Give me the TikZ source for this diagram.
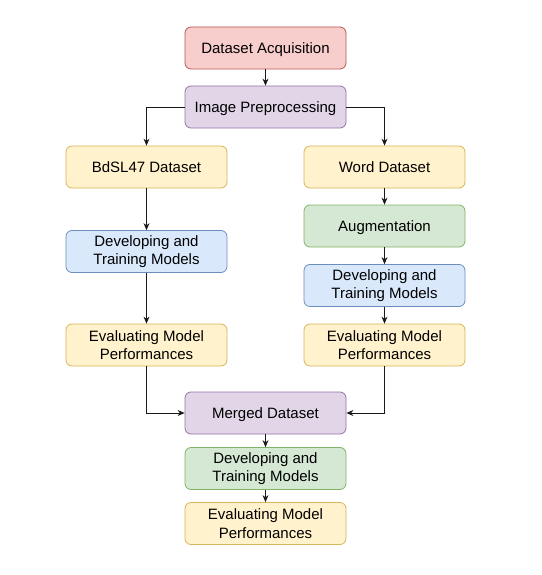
\documentclass[tikz,border=0pt]{standalone}
\usepackage{fontspec}
\setmainfont{Liberation Sans}
\usetikzlibrary{arrows.meta}
\definecolor{redf}{HTML}{F8CECC}\definecolor{redd}{HTML}{B85450}
\definecolor{purf}{HTML}{E1D5E7}\definecolor{purd}{HTML}{9673A6}
\definecolor{yelf}{HTML}{FFF2CC}\definecolor{yeld}{HTML}{D6B656}
\definecolor{grnf}{HTML}{D5E8D4}\definecolor{grnd}{HTML}{82B366}
\definecolor{bluf}{HTML}{DAE8FC}\definecolor{blud}{HTML}{6C8EBF}
\begin{document}
\begin{tikzpicture}[x=1pt,y=-1pt,
  box/.style={draw, line width=0.8pt, rounded corners=6pt, minimum width=161pt, minimum height=42pt,
    align=center, inner sep=0pt, font=\fontsize{15}{18.5}\selectfont},
  one/.style={text height=12pt, text depth=1pt},
  redbox/.style={box, fill=redf, draw=redd},
  purbox/.style={box, fill=purf, draw=purd},
  yelbox/.style={box, fill=yelf, draw=yeld},
  grnbox/.style={box, fill=grnf, draw=grnd},
  blubox/.style={box, fill=bluf, draw=blud},
  conn/.style={draw=black!90, line width=0.9pt, -{Stealth[length=7pt,width=6pt]}}]
\useasboundingbox (0,0) rectangle (541,575);
\node[redbox,one] (da) at (265.5,48) {Dataset Acquisition};
\node[purbox,one] (ip) at (265.5,107) {Image Preprocessing};
\node[yelbox,one] (bd) at (146.5,167) {BdSL47 Dataset};
\node[yelbox,one] (wd) at (384.5,167) {Word Dataset};
\node[grnbox,one] (au) at (384.5,226) {Augmentation};
\node[blubox] (dl) at (146.5,251.5) {Developing and\\Training Models};
\node[blubox] (dr) at (384.5,285.5) {Developing and\\Training Models};
\node[yelbox] (el) at (146.5,345) {Evaluating Model\\Performances};
\node[yelbox] (er) at (384.5,345) {Evaluating Model\\Performances};
\node[purbox,one] (md) at (265.5,413) {Merged Dataset};
\node[grnbox] (db) at (265.5,468.5) {Developing and\\Training Models};
\node[yelbox] (eb) at (265.5,523.5) {Evaluating Model\\Performances};
\draw[conn] (da) -- (ip);
\draw[conn] (ip.west) -| (bd.north);
\draw[conn] (ip.east) -| (wd.north);
\draw[conn] (bd) -- (dl);
\draw[conn] (dl) -- (el);
\draw[conn] (wd) -- (au);
\draw[conn] (au) -- (dr);
\draw[conn] (dr) -- (er);
\draw[conn] (el.south) |- (md.west);
\draw[conn] (er.south) |- (md.east);
\draw[conn] (md) -- (db);
\draw[conn] (db) -- (eb);
\end{tikzpicture}
\end{document}
